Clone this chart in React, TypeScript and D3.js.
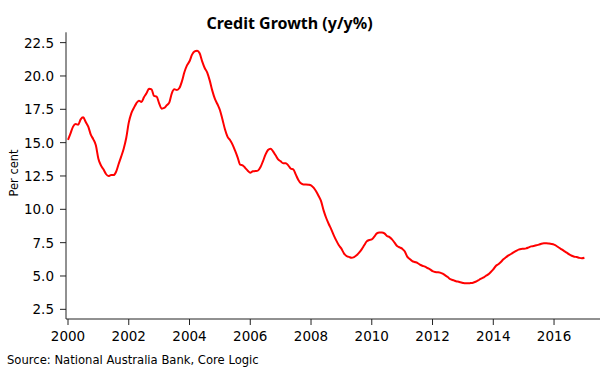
import React from "react";
import * as d3 from "d3";

const startYear = 2000;
const growth2000 = [15.2, 15.7, 16.2, 16.4, 16.35, 16.75, 16.9, 16.55, 16.2, 15.6, 15.25, 14.8];
const growth2001 = [13.8, 13.3, 13.0, 12.65, 12.5, 12.57, 12.57, 12.82, 13.4, 13.95, 14.55, 15.35];
const growth2002 = [16.5, 17.2, 17.6, 17.95, 18.15, 18.05, 18.4, 18.7, 19.05, 19.0, 18.5, 18.45];
const growth2003 = [17.95, 17.55, 17.6, 17.8, 18.0, 18.7, 19.0, 18.95, 19.1, 19.6, 20.3, 20.8];
const growth2004 = [21.1, 21.6, 21.85, 21.9, 21.7, 21.1, 20.6, 20.25, 19.65, 18.9, 18.3, 17.9];
const growth2005 = [17.45, 16.75, 16.0, 15.45, 15.2, 14.85, 14.4, 13.9, 13.35, 13.3, 13.1, 12.9];
const growth2006 = [12.75, 12.85, 12.87, 12.9, 13.15, 13.6, 14.1, 14.45, 14.55, 14.35, 14.05, 13.75];
const growth2007 = [13.6, 13.45, 13.45, 13.3, 13.05, 13.0, 12.6, 12.2, 11.95, 11.87, 11.87, 11.85];
const growth2008 = [11.8, 11.62, 11.35, 11.0, 10.6, 9.9, 9.35, 8.9, 8.5, 8.05, 7.65, 7.3];
const growth2009 = [7.05, 6.7, 6.5, 6.43, 6.37, 6.42, 6.55, 6.75, 7.0, 7.3, 7.6, 7.7];
const growth2010 = [7.75, 7.95, 8.2, 8.27, 8.27, 8.2, 8.0, 7.92, 7.75, 7.5, 7.25, 7.15];
const growth2011 = [7.05, 6.85, 6.45, 6.27, 6.12, 6.05, 5.98, 5.85, 5.77, 5.7, 5.6, 5.5];
const growth2012 = [5.37, 5.3, 5.28, 5.25, 5.17, 5.05, 4.92, 4.77, 4.7, 4.62, 4.58, 4.53];
const growth2013 = [4.48, 4.45, 4.45, 4.47, 4.5, 4.57, 4.67, 4.78, 4.87, 5.0, 5.12, 5.3];
const growth2014 = [5.5, 5.75, 5.88, 6.05, 6.25, 6.4, 6.55, 6.65, 6.77, 6.88, 6.98, 7.03];
const growth2015 = [7.04, 7.07, 7.15, 7.22, 7.25, 7.3, 7.35, 7.42, 7.45, 7.45, 7.43, 7.4];
const growth2016 = [7.35, 7.25, 7.12, 7.0, 6.87, 6.75, 6.62, 6.52, 6.45, 6.42, 6.36, 6.33];
const growth2017 = [6.37];

const yearlySeries = [
  growth2000, growth2001, growth2002, growth2003, growth2004, growth2005,
  growth2006, growth2007, growth2008, growth2009, growth2010, growth2011,
  growth2012, growth2013, growth2014, growth2015, growth2016, growth2017,
];

const xTickValues = [2000, 2002, 2004, 2006, 2008, 2010, 2012, 2014, 2016];
const yTickValues = [2.5, 5.0, 7.5, 10.0, 12.5, 15.0, 17.5, 20.0, 22.5];

const title = "Credit Growth (y/y%)";
const yAxisTitle = "Per cent";
const sourceText = "Source: National Australia Bank, Core Logic";

export default function App() {
  const width = 601;
  const height = 367;

  const data = yearlySeries.flatMap((arr, yi) =>
    arr.map((v, m) => ({ t: startYear + yi + m / 12, v }))
  );

  const x = d3.scaleLinear().domain([1999.934, 2017.513]).range([66, 600]);
  const y = d3.scaleLinear().domain([1.775, 23.275]).range([319, 32.3]);

  const line = d3
    .line<{ t: number; v: number }>()
    .x((d) => x(d.t))
    .y((d) => y(d.v))
    .curve(d3.curveMonotoneX);

  const axisColor = "#222";
  const font = "DejaVu Sans, Verdana, sans-serif";
  const [x0, x1] = x.range();
  const [yb, yt] = y.range();

  return (
    <svg
      width={width}
      height={height}
      style={{ position: "absolute", left: 0, top: 0, background: "#fff" }}
    >
      <rect width={width} height={height} fill="#fff" />
      <text
        x={289.5}
        y={28.5}
        textAnchor="middle"
        fontFamily="'Noto Sans', 'Open Sans', sans-serif"
        fontWeight="bold"
        fontSize={16}
        fill="#000"
      >
        {title}
      </text>

      {/* Y axis */}
      <line x1={x0} x2={x0} y1={yt} y2={yb} stroke={axisColor} strokeWidth={1} />
      {yTickValues.map((v) => (
        <g key={v} transform={`translate(0,${y(v)})`}>
          <line x1={x0 - 6} x2={x0} stroke={axisColor} strokeWidth={1} />
          <text
            x={x0 - 12}
            dy="0.36em"
            textAnchor="end"
            fontFamily={font}
            fontSize={13.5}
            fill="#000"
          >
            {v.toFixed(1)}
          </text>
        </g>
      ))}
      <text
        transform={`translate(18,${173}) rotate(-90)`}
        textAnchor="middle"
        fontFamily={font}
        fontSize={11.5}
        fill="#000"
      >
        {yAxisTitle}
      </text>

      {/* X axis */}
      <line x1={x0} x2={x1} y1={yb} y2={yb} stroke={axisColor} strokeWidth={1} />
      {xTickValues.map((t) => (
        <g key={t} transform={`translate(${x(t)},0)`}>
          <line y1={yb} y2={yb + 6} stroke={axisColor} strokeWidth={1} />
          <text
            y={yb + 22}
            textAnchor="middle"
            fontFamily={font}
            fontSize={13.5}
            fill="#000"
          >
            {t}
          </text>
        </g>
      ))}

      <path d={line(data) || ""} fill="none" stroke="#ff0000" strokeWidth={2} />

      <text x={7} y={363.5} fontFamily={font} fontSize={11.6} fill="#000">
        {sourceText}
      </text>
    </svg>
  );
}
